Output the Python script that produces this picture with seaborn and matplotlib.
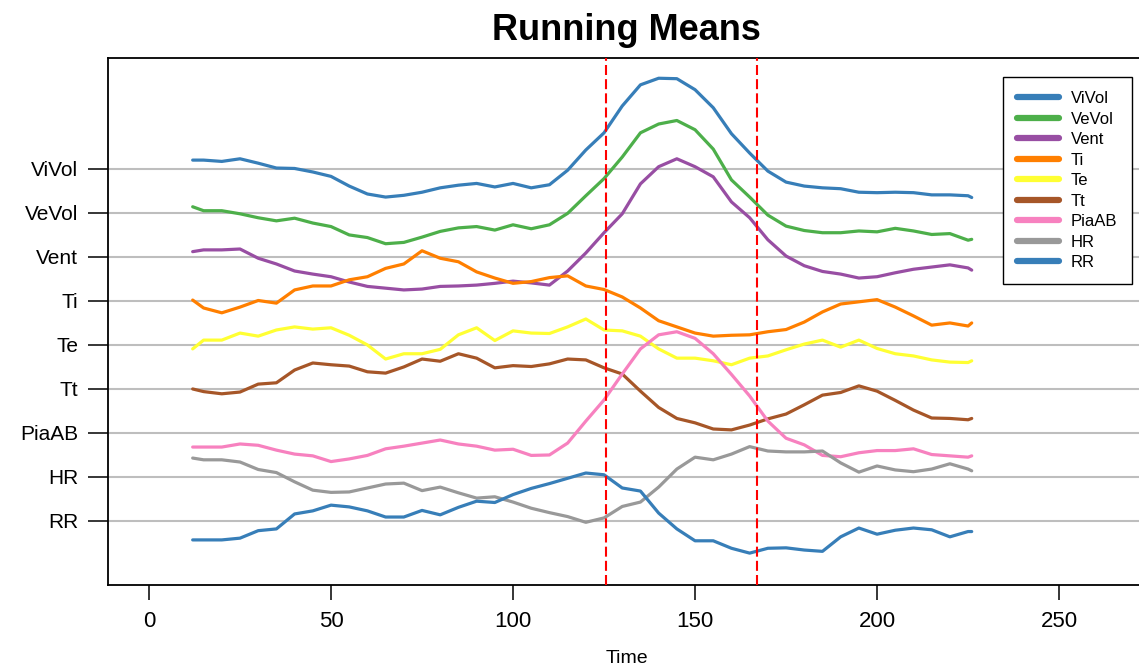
import numpy as np
import pandas as pd
import matplotlib
matplotlib.use("Agg")
import matplotlib.pyplot as plt
from matplotlib.lines import Line2D
import seaborn as sns

# ---------------- data ----------------
time = [12, 15, 20, 25, 30, 35, 40, 45, 50, 55, 60, 65, 70, 75, 80, 85, 90,
        95, 100, 105, 110, 115, 120, 125, 130, 135, 140, 145, 150, 155, 160,
        165, 170, 175, 180, 185, 190, 195, 200, 205, 210, 215, 220, 225, 226]

vivol = [9.20, 9.20, 9.17, 9.23, 9.13, 9.02, 9.01, 8.93, 8.83, 8.61, 8.43, 8.36,
         8.40, 8.47, 8.57, 8.63, 8.67, 8.59, 8.67, 8.57, 8.64, 8.97, 9.43, 9.82,
         10.43, 10.91, 11.06, 11.05, 10.80, 10.39, 9.80, 9.36, 8.95, 8.70, 8.61,
         8.57, 8.55, 8.47, 8.46, 8.47, 8.46, 8.41, 8.41, 8.39, 8.35]
vevol = [8.14, 8.05, 8.05, 7.98, 7.89, 7.82, 7.88, 7.77, 7.69, 7.50, 7.44, 7.30,
         7.33, 7.45, 7.58, 7.66, 7.69, 7.61, 7.73, 7.64, 7.73, 7.99, 8.39, 8.78,
         9.27, 9.82, 10.02, 10.10, 9.89, 9.45, 8.75, 8.36, 7.95, 7.70, 7.60,
         7.55, 7.55, 7.59, 7.57, 7.65, 7.59, 7.51, 7.53, 7.38, 7.40]
vent = [7.12, 7.16, 7.16, 7.18, 6.97, 6.84, 6.68, 6.61, 6.55, 6.43, 6.33, 6.29,
        6.25, 6.27, 6.33, 6.34, 6.36, 6.40, 6.45, 6.41, 6.36, 6.68, 7.09, 7.55,
        7.98, 8.66, 9.05, 9.23, 9.05, 8.82, 8.25, 7.89, 7.39, 7.02, 6.80,
        6.67, 6.61, 6.52, 6.55, 6.64, 6.72, 6.77, 6.82, 6.75, 6.70]
ti = [6.02, 5.84, 5.73, 5.86, 6.01, 5.95, 6.25, 6.34, 6.34, 6.48, 6.55, 6.74,
      6.84, 7.14, 6.97, 6.89, 6.66, 6.52, 6.40, 6.44, 6.53, 6.57, 6.34, 6.26,
      6.09, 5.84, 5.55, 5.41, 5.27, 5.20, 5.22, 5.23, 5.30, 5.35, 5.52,
      5.75, 5.93, 5.98, 6.03, 5.86, 5.66, 5.45, 5.50, 5.43, 5.50]
te = [4.91, 5.11, 5.11, 5.27, 5.20, 5.34, 5.41, 5.36, 5.39, 5.22, 5.00, 4.68,
      4.80, 4.80, 4.90, 5.23, 5.39, 5.10, 5.32, 5.27, 5.26, 5.41, 5.59, 5.34,
      5.32, 5.20, 4.91, 4.70, 4.70, 4.64, 4.55, 4.70, 4.75, 4.89, 5.02,
      5.11, 4.95, 5.11, 4.92, 4.80, 4.75, 4.66, 4.61, 4.60, 4.64]
tt = [4.00, 3.94, 3.89, 3.93, 4.11, 4.14, 4.43, 4.59, 4.55, 4.52, 4.39, 4.36,
      4.50, 4.68, 4.63, 4.80, 4.70, 4.48, 4.53, 4.51, 4.57, 4.68, 4.66, 4.48,
      4.34, 3.95, 3.58, 3.33, 3.23, 3.09, 3.07, 3.18, 3.32, 3.43, 3.64,
      3.86, 3.92, 4.07, 3.95, 3.74, 3.52, 3.34, 3.33, 3.30, 3.33]
piaab = [2.68, 2.68, 2.68, 2.75, 2.72, 2.61, 2.52, 2.48, 2.35, 2.41, 2.49, 2.64,
         2.70, 2.77, 2.84, 2.75, 2.70, 2.61, 2.63, 2.49, 2.50, 2.77, 3.27, 3.75,
         4.34, 4.91, 5.23, 5.30, 5.15, 4.80, 4.33, 3.84, 3.27, 2.88, 2.73,
         2.49, 2.46, 2.55, 2.60, 2.60, 2.64, 2.51, 2.48, 2.45, 2.48]
hr = [2.43, 2.39, 2.39, 2.34, 2.17, 2.10, 1.89, 1.70, 1.65, 1.66, 1.75, 1.84,
      1.86, 1.69, 1.77, 1.64, 1.52, 1.55, 1.43, 1.29, 1.19, 1.10, 0.97, 1.07,
      1.33, 1.43, 1.77, 2.18, 2.45, 2.39, 2.52, 2.69, 2.59, 2.57, 2.57,
      2.59, 2.32, 2.11, 2.25, 2.16, 2.12, 2.18, 2.30, 2.18, 2.14]
rr = [0.57, 0.57, 0.57, 0.61, 0.78, 0.82, 1.16, 1.23, 1.36, 1.32, 1.23, 1.09,
      1.09, 1.24, 1.14, 1.31, 1.45, 1.42, 1.60, 1.74, 1.85, 1.97, 2.09, 2.05,
      1.75, 1.68, 1.18, 0.82, 0.55, 0.55, 0.38, 0.27, 0.38, 0.39, 0.34,
      0.31, 0.64, 0.84, 0.70, 0.79, 0.84, 0.80, 0.64, 0.76, 0.76]

series_names = ["ViVol", "VeVol", "Vent", "Ti", "Te", "Tt", "PiaAB", "HR", "RR"]
series_values = [vivol, vevol, vent, ti, te, tt, piaab, hr, rr]
series_colors = ["#377EB8", "#4DAF4A", "#984EA3", "#FF7F00", "#FFFF33",
                 "#A65628", "#F781BF", "#999999", "#377EB8"]

y_tick_positions = [1, 2, 3, 4, 5, 6, 7, 8, 9]
y_tick_labels = ["RR", "HR", "PiaAB", "Tt", "Te", "Ti", "Vent", "VeVol", "ViVol"]
x_ticks = [0, 50, 100, 150, 200, 250]
event_times = [125.5, 167.0]

# ---------------- figure ----------------
sns.set_theme(style="ticks")
plt.rcParams["font.family"] = ["Liberation Sans", "DejaVu Sans"]
plt.rcParams["text.color"] = "black"
plt.rcParams["axes.labelcolor"] = "black"
plt.rcParams["xtick.color"] = "black"
plt.rcParams["ytick.color"] = "black"

W, H = 1139, 666
fig = plt.figure(figsize=(W / 100, H / 100), dpi=100)
ax = fig.add_axes([108 / W, 1 - 585 / H, (1145 - 108) / W, (585 - 58) / H])

rows = []
for name, vals in zip(series_names, series_values):
    for t, v in zip(time, vals):
        rows.append((name, t, v))
df = pd.DataFrame(rows, columns=["Series", "Time", "Value"])
palette = dict(zip(series_names, series_colors))

ax.set_yticks(y_tick_positions)
ax.set_yticklabels(y_tick_labels)
ax.yaxis.grid(True, color="#BEBEBE", linewidth=1.5)
ax.xaxis.grid(False)
ax.set_axisbelow(True)

sns.lineplot(data=df, x="Time", y="Value", hue="Series", hue_order=series_names,
             palette=palette, linewidth=2.3, estimator=None, sort=False,
             legend=False, ax=ax)

for t in event_times:
    ax.axvline(t, color="red", linestyle=(0, (4.8, 2.0)), linewidth=1.5, zorder=5)

ax.set_xlim(-11.26, 273.6)
ax.set_ylim(-0.4545, 11.52)
ax.set_xticks(x_ticks)
ax.set_xticklabels([str(v) for v in x_ticks])

ax.tick_params(axis="x", length=10.8, width=1.1, pad=8, labelsize=16,
               direction="out", color="black", labelcolor="black")
ax.tick_params(axis="y", length=14.4, width=1.1, pad=7, labelsize=15,
               direction="out", color="black", labelcolor="black")

for side in ["left", "bottom", "top"]:
    ax.spines[side].set_color("black")
    ax.spines[side].set_linewidth(1.3)
ax.spines["right"].set_visible(False)

ax.set_title("Running Means", fontsize=26, fontweight="bold", pad=13, color="black")
ax.set_xlabel("Time", fontsize=14, labelpad=13, color="black")
ax.set_ylabel("")

handles = [Line2D([0], [0], color=c, linewidth=4.5, solid_capstyle="round")
           for c in series_colors]
leg = ax.legend(handles, series_names, loc="upper left",
                bbox_to_anchor=(1003 / W, 1 - 77 / H),
                bbox_transform=fig.transFigure, fontsize=12, frameon=True,
                fancybox=False, edgecolor="black", framealpha=1,
                handlelength=2.5, handletextpad=0.72, labelspacing=0.33,
                borderpad=0.85, borderaxespad=0)
leg.get_frame().set_linewidth(1.0)
for txt in leg.get_texts():
    txt.set_color("black")

fig.savefig("out.png", dpi=100)
